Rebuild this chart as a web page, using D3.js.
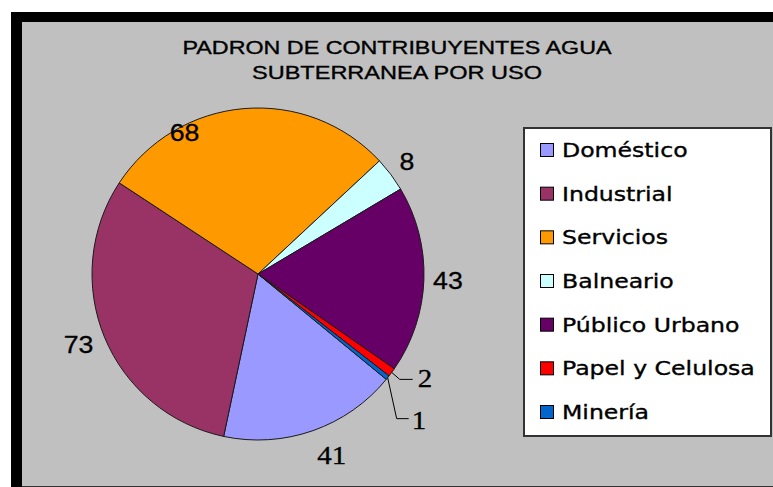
<!DOCTYPE html>
<html>
<head>
<meta charset="utf-8">
<script src="https://cdn.jsdelivr.net/npm/d3@7"></script>
<style>
  html, body { margin: 0; padding: 0; background: #ffffff; }
  svg { display: block; }
</style>
</head>
<body>
<script>
// Padrón de contribuyentes de agua subterránea, por uso
const categories = ["Doméstico", "Industrial", "Servicios", "Balneario", "Público Urbano", "Papel y Celulosa", "Minería"];
const values = [41, 73, 68, 8, 43, 2, 1];
const colors = ["#9999FF", "#993366", "#FF9900", "#CCFFFF", "#660066", "#FF0000", "#0066CC"];
const titleLines = ["PADRON DE CONTRIBUYENTES AGUA", "SUBTERRANEA POR USO"];

const W = 773, H = 487;
const svg = d3.select("body").append("svg").attr("width", W).attr("height", H);

// frame: black bands top/left, grey plot area
svg.append("rect").attr("x", 11).attr("y", 12).attr("width", W - 11).attr("height", H - 12).attr("fill", "#000");
svg.append("rect").attr("x", 22).attr("y", 22).attr("width", W - 22).attr("height", H - 23).attr("fill", "#C0C0C0");
svg.append("line").attr("x1", 22).attr("x2", W).attr("y1", H - 0.5).attr("y2", H - 0.5).attr("stroke", "#333").attr("stroke-width", 1);

// title
const titleG = svg.append("g");
const titleWidths = [429, 290];
titleLines.forEach((t, i) => {
  titleG.append("text")
    .attr("x", 397).attr("y", 54 + i * 25)
    .attr("text-anchor", "middle")
    .attr("font-family", "'Liberation Sans', Arial, sans-serif")
    .attr("font-size", 18)
    .attr("textLength", titleWidths[i])
    .attr("lengthAdjust", "spacingAndGlyphs")
    .attr("fill", "#000")
    .attr("stroke", "#000").attr("stroke-width", 0.35)
    .text(t);
});

// pie
const cx = 258, cy = 274, R = 166;
const startDeg = 129.4;
const toRad = d => d * Math.PI / 180;
const pie = d3.pie().sort(null).value(d => d.value)
  .startAngle(toRad(startDeg)).endAngle(toRad(startDeg) + 2 * Math.PI);
const data = categories.map((c, i) => ({ name: c, value: values[i], color: colors[i] }));
const arcs = pie(data);
const arc = d3.arc().innerRadius(0).outerRadius(R);

const pieG = svg.append("g").attr("transform", `translate(${cx},${cy})`);
pieG.selectAll("path").data(arcs).join("path")
  .attr("d", arc)
  .attr("fill", d => d.data.color)
  .attr("stroke", "#1a1a1a")
  .attr("stroke-width", 1)
  .attr("stroke-linejoin", "round");

// polar helper (angle clockwise from 12 o'clock)
const polar = (a, r) => [Math.sin(a) * r, -Math.cos(a) * r];

// data labels
const sansFont = "'Liberation Sans', Arial, sans-serif";
const serifFont = "'Liberation Serif', 'Times New Roman', serif";
const serifLabels = new Set(["Doméstico", "Papel y Celulosa", "Minería"]);
// label nudges: angle shift (degrees) and radius
const labelPlace = {
  "Doméstico": { da: -2.8, r: 196 },
  "Industrial": { da: 0.8, r: 193 },
  "Servicios": { da: -22.7, r: 159 },
  "Balneario": { da: 0, r: 186 },
  "Público Urbano": { da: 0, r: 190 }
};
// labels pulled out with leader lines: elbow and end offsets from the arc edge
const leaders = {
  "Papel y Celulosa": { elbow: [8, 7], end: [21, 7], text: [5, 8] },
  "Minería": { elbow: [9, 41], end: [21, 41], text: [3, 10] }
};

const labG = svg.append("g").attr("transform", `translate(${cx},${cy})`);
const sx = 1.16;
function label(x, y, str, font, size, anchor) {
  labG.append("text")
    .attr("transform", `translate(${x},${y}) scale(${sx},1)`)
    .attr("text-anchor", anchor)
    .attr("font-family", font)
    .attr("font-size", size)
    .attr("fill", "#000")
    .attr("stroke", "#000").attr("stroke-width", 0.3)
    .text(str);
}

arcs.forEach(d => {
  const mid = (d.startAngle + d.endAngle) / 2;
  const name = d.data.name;
  const font = serifLabels.has(name) ? serifFont : sansFont;
  const size = serifLabels.has(name) ? 25 : 23;
  if (leaders[name]) {
    const L = leaders[name];
    const [px, py] = polar(mid, R);
    const e = [px + L.elbow[0], py + L.elbow[1]];
    const f = [px + L.end[0], py + L.end[1]];
    labG.append("path")
      .attr("d", d3.line()([[px, py], e, f]))
      .attr("fill", "none").attr("stroke", "#000").attr("stroke-width", 1);
    label(f[0] + L.text[0], f[1] + L.text[1], String(d.data.value), font, size, "start");
  } else {
    const P = labelPlace[name];
    const [x, y] = polar(mid + toRad(P.da), P.r);
    label(x, y + 8, String(d.data.value), font, size, "middle");
  }
});

// legend
const lg = svg.append("g");
lg.append("rect").attr("x", 524).attr("y", 128).attr("width", 247).attr("height", 308)
  .attr("fill", "#fff").attr("stroke", "#333").attr("stroke-width", 2);
const ly = d3.scalePoint().domain(categories).range([157, 419]);
categories.forEach((c, i) => {
  const y = ly(c);
  lg.append("rect").attr("x", 540.5).attr("y", y - 13.5).attr("width", 13).attr("height", 13)
    .attr("fill", colors[i]).attr("stroke", "#000").attr("stroke-width", 1);
  lg.append("text")
    .attr("transform", `translate(562,${y}) scale(1.18,1)`)
    .attr("font-family", "'DejaVu Sans', Verdana, sans-serif")
    .attr("font-size", 20)
    .attr("fill", "#000")
    .attr("stroke", "#000").attr("stroke-width", 0.35)
    .text(c);
});
</script>
</body>
</html>
